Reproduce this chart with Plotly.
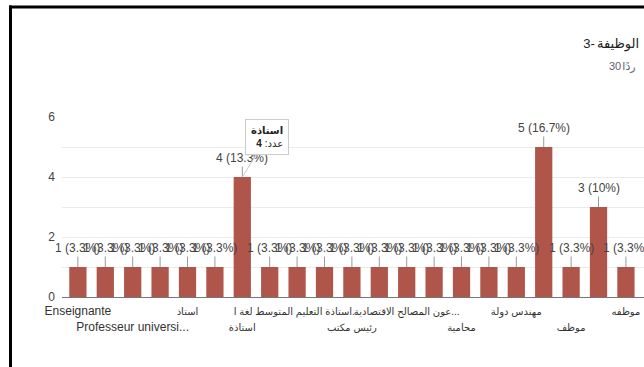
import plotly.graph_objects as go

# ---- data ----
categories = [
    "Enseignante", "Enseignant", "Professeur universitaire", "استاذ جامعي", "استاذ",
    "أستاذ", "استاذة", "استاذة التعليم الابتدائي", "استاذة التعليم المتوسط لغة انجليزية",
    "استاذة التعليم الثانوي", "رئيس مكتب", "متصرف اداري", "عون المصالح الاقتصادية للمؤسسة",
    "طالبة", "محامية", "مهندسة", "مهندس دولة", "معلمة", "موظف", "موظفة", "موظفه",
]
counts = [1, 1, 1, 1, 1, 1, 4, 1, 1, 1, 1, 1, 1, 1, 1, 1, 1, 5, 1, 3, 1]

# shown axis labels (Google staggers every other one on two rows)
shown_index = [0, 2, 4, 6, 8, 10, 12, 14, 16, 18, 20]
shown_text = [
    "Enseignante", "Professeur universi...", "استاذ", "استاذة",
    "استاذة التعليم المتوسط لغة ا...", "رئيس مكتب", "عون المصالح الاقتصادية...",
    "محامية", "مهندس دولة", "موظف", "موظفه",
]
y_ticks = [0, 2, 4, 6]

# header pieces (number and word kept apart so their order is fixed)
title_parts = ["3-", "الوظيفة"]
subtitle_parts = ["30", "ردًا"]

tooltip_label = "استاذة"
tooltip_field = "عدد"

total = sum(counts)
BAR = "#b0554a"
FONT = "Arial, Liberation Sans, DejaVu Sans, sans-serif"

W, H = 644, 367
PLOT_L, PLOT_R, PLOT_T, PLOT_B = 62, 644, 117, 297   # plot box in pixels


def px_x(px):
    return px / W


def px_y(py):
    return 1 - py / H


def is_latin(s):
    return all(ord(ch) < 0x600 for ch in s)


def span(t, size):
    if is_latin(t):
        return t
    return f'<span style="font-size:{size}px">{t}</span>'


fig = go.Figure()
fig.add_trace(go.Bar(x=categories, y=counts, marker_color=BAR,
                     marker_line_width=0, hoverinfo="skip"))
# empty traces so the two header strips (used only for their tick labels) exist
for xa, ya in (("x3", "y3"), ("x4", "y4")):
    fig.add_trace(go.Scatter(x=[None], y=[None], xaxis=xa, yaxis=ya,
                             hoverinfo="skip", showlegend=False))

tickvals = [categories[i] for i in shown_index]
ticktext = [span(t, 10) if k % 2 == 0 else "<br>" + span(t, 10)
            for k, t in enumerate(shown_text)]

annotations = []
for c, v in zip(categories, counts):
    pct = round(v / total * 100, 1)
    annotations.append(dict(
        x=c, y=v, xref="x", yref="y", text=f"{v} ({pct:g}%)",
        showarrow=True, arrowhead=0, arrowwidth=1, arrowcolor="#9a9a9a",
        ax=0, ay=-19, standoff=0, font=dict(size=12, color="#444", family=FONT),
    ))

# tooltip on the "استاذة" bar
ti = categories.index(tooltip_label)
annotations.append(dict(
    x=categories[ti], y=counts[ti], xref="x", yref="y",
    text=f"<b>{tooltip_label}</b><br>{tooltip_field}: <b>{counts[ti]}</b>",
    align="right", showarrow=True, arrowhead=0, arrowwidth=1, arrowcolor="#c8c8c8",
    ax=25, ay=-40, standoff=0, bgcolor="white", bordercolor="#cccccc",
    borderwidth=1, borderpad=5, font=dict(size=10, color="#222", family=FONT),
))

shapes = [
    dict(type="line", xref="paper", yref="paper", x0=px_x(10.5), x1=px_x(10.5),
         y0=px_y(370), y1=px_y(5.5), line=dict(color="black", width=3)),
    dict(type="line", xref="paper", yref="paper", x0=px_x(9), x1=1.0,
         y0=px_y(7), y1=px_y(7), line=dict(color="black", width=3)),
]

header_axis = dict(domain=[0, 1], range=[0, W], tickmode="array", showgrid=False,
                   showline=False, zeroline=False, ticks="", fixedrange=True,
                   automargin=False, tickangle=0)
hidden_y = dict(domain=[0, 1], range=[0, 1], visible=False, fixedrange=True)

fig.update_layout(
    width=W, height=H,
    margin=dict(l=0, r=0, t=0, b=0, pad=0, autoexpand=False),
    paper_bgcolor="white", plot_bgcolor="rgba(0,0,0,0)",
    showlegend=False, bargap=0.37,
    font=dict(family=FONT, size=12, color="#444"),
    annotations=annotations, shapes=shapes,
    xaxis=dict(domain=[PLOT_L / W, PLOT_R / W], range=[-0.58, 20.66],
               tickmode="array", tickvals=tickvals,
               ticktext=ticktext, showgrid=False, ticks="", tickangle=0,
               tickfont=dict(size=12, color="#333"), fixedrange=True,
               automargin=False, ticklabelstandoff=5),
    yaxis=dict(domain=[1 - PLOT_B / H, 1 - PLOT_T / H], range=[0, 6],
               tickmode="array", tickvals=y_ticks,
               showgrid=True, gridcolor="#ebebeb", zeroline=True,
               zerolinecolor="#777", zerolinewidth=1, ticks="",
               minor=dict(dtick=1, showgrid=True, gridcolor="#ebebeb"),
               tickfont=dict(size=12, color="#444"), ticklabelstandoff=6,
               automargin=False, fixedrange=True),
    # title strip: axis line at y=30px, labels centred near y=43px
    xaxis3=dict(header_axis, anchor="y3", side="bottom",
                tickvals=[589, 618], ticklabelstandoff=4,
                ticktext=[span(t, 13) for t in title_parts],
                tickfont=dict(size=13, color="#202124", family=FONT)),
    yaxis3=dict(hidden_y, domain=[1 - 30 / H, 1], anchor="x3"),
    # subtitle strip: axis line at y=53px, labels centred near y=66px
    xaxis4=dict(header_axis, anchor="y4", side="bottom",
                tickvals=[615, 629], ticklabelstandoff=5,
                ticktext=[span(t, 11) for t in subtitle_parts],
                tickfont=dict(size=11, color="#5f6368", family=FONT)),
    yaxis4=dict(hidden_y, domain=[1 - 53 / H, 1], anchor="x4"),
)

fig.write_html("out.html", config={"displayModeBar": False},
               post_script="document.body.style.margin='0';document.body.style.overflow='hidden';")
